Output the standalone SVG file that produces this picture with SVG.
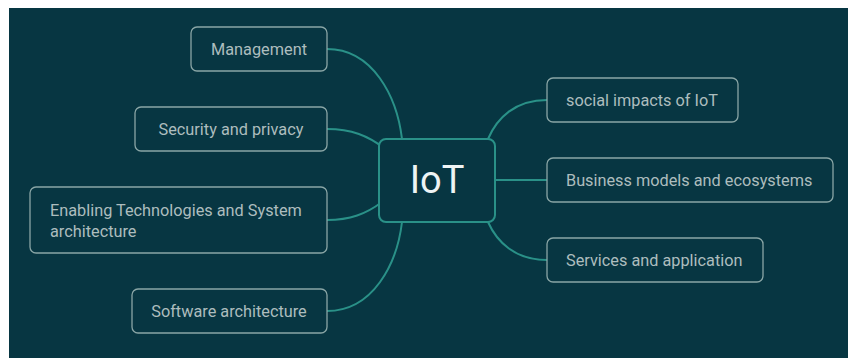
<svg xmlns="http://www.w3.org/2000/svg" width="848" height="358" viewBox="0 0 848 358">
<style>
.node rect{fill:#073642;stroke:#8aa6a6;stroke-width:1.3}
.node text{font-family:Roboto,"Liberation Sans",sans-serif;font-size:16.3px;fill:#adbdbe}
.conn path{fill:none;stroke:#2a9188;stroke-width:2}
#center rect{fill:#073642;stroke:#2a9188;stroke-width:2}
#center text{font-family:Roboto,"Liberation Sans",sans-serif;font-size:38px;fill:#eef4f4}
</style>
<rect x="0" y="0" width="848" height="358" fill="#ffffff"/>
<rect x="9" y="8" width="839" height="350" fill="#073642"/>
<g class="conn" id="connectors">
<path d="M327,49 C373,49 397,97 402,139"/>
<path d="M327,129 C352,129 368,136 384,148"/>
<path d="M327,220 C350,220 366,214 382,202"/>
<path d="M327,311 C373,311 397,264 402,222"/>
<path d="M547,100 C515,100 497,118 488,139"/>
<path d="M495,180 L547,180"/>
<path d="M547,260 C515,260 497,242 488,222"/>
</g>
<g id="center">
<rect x="379" y="139" width="116" height="83" rx="7"/>
<text x="437" y="193" text-anchor="middle">IoT</text>
</g>
<g class="node" id="management">
<rect x="191" y="27" width="136" height="44" rx="6"/>
<text x="259" y="55" text-anchor="middle">Management</text>
</g>
<g class="node" id="security">
<rect x="135" y="107" width="192" height="44" rx="6"/>
<text x="231" y="135" text-anchor="middle">Security and privacy</text>
</g>
<g class="node" id="enabling">
<rect x="30" y="187" width="297" height="66" rx="6"/>
<text x="50" y="216">Enabling Technologies and System</text>
<text x="50" y="237">architecture</text>
</g>
<g class="node" id="software">
<rect x="132" y="289" width="195" height="44" rx="6"/>
<text x="229" y="317" text-anchor="middle">Software architecture</text>
</g>
<g class="node" id="social">
<rect x="547" y="78" width="191" height="44" rx="6"/>
<text x="566" y="106">social impacts of IoT</text>
</g>
<g class="node" id="business">
<rect x="547" y="158" width="286" height="44" rx="6"/>
<text x="566" y="186">Business models and ecosystems</text>
</g>
<g class="node" id="services">
<rect x="547" y="238" width="216" height="44" rx="6"/>
<text x="566" y="266">Services and application</text>
</g>
</svg>
